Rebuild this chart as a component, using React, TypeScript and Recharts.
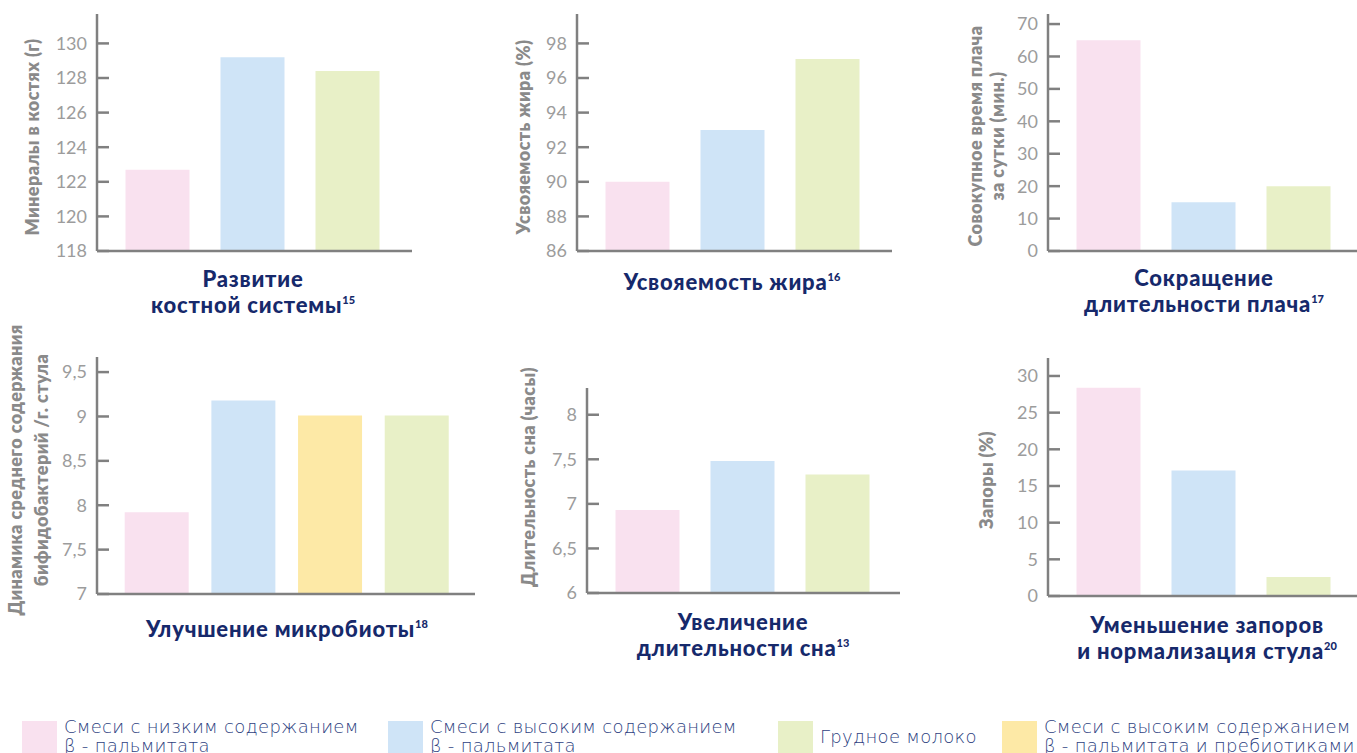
import React from 'react';
import { Bar, BarChart, Cell, XAxis, YAxis } from 'recharts';

// groups shown in the legend, in legend order
const groupKeys = ['low', 'high', 'milk', 'prebio'];
const groupColors = ['#f9e1ef', '#cfe4f7', '#e8f0c7', '#fde9a6'];
const legendLines = [
  ['Смеси с низким содержанием', 'β - пальмитата'],
  ['Смеси с высоким содержанием', 'β - пальмитата'],
  ['Грудное молоко'],
  ['Смеси с высоким содержанием', 'β - пальмитата и пребиотиками'],
];

// 1. bone minerals
const boneCats = ['low', 'high', 'milk'];
const boneValues = [122.7, 129.2, 128.4];
const boneTicks = [118, 120, 122, 124, 126, 128, 130];

// 2. fat absorption
const fatCats = ['low', 'high', 'milk'];
const fatValues = [90, 93, 97.1];
const fatTicks = [86, 88, 90, 92, 94, 96, 98];

// 3. crying time
const cryCats = ['low', 'high', 'milk'];
const cryValues = [65, 15, 20];
const cryTicks = [0, 10, 20, 30, 40, 50, 60, 70];

// 4. bifidobacteria
const bifidoCats = ['low', 'high', 'prebio', 'milk'];
const bifidoValues = [7.92, 9.18, 9.01, 9.01];
const bifidoTicks = [7, 7.5, 8, 8.5, 9, 9.5];

// 5. sleep duration
const sleepCats = ['low', 'high', 'milk'];
const sleepValues = [6.93, 7.48, 7.33];
const sleepTicks = [6, 6.5, 7, 7.5, 8];

// 6. constipation
const stoolCats = ['low', 'high', 'milk'];
const stoolValues = [28.4, 17.1, 2.6];
const stoolTicks = [0, 5, 10, 15, 20, 25, 30];

const AXIS_W = 60;
const PAD = 14; // room above/below the plot for the end tick labels
const AXIS_COLOR = '#808080';
const TICK_COLOR = '#9c9c9c';
const LABEL_COLOR = '#8a8a8a';
const NAVY = '#16296b';
const LEGEND_TEXT = '#2e3f7f';

const colorOf = (key: string) => groupColors[groupKeys.indexOf(key)];

type Box = { x: number; y: number; w: number; h: number };

function MiniBarChart({
  cats,
  values,
  ticks,
  max,
  box,
  pad,
}: {
  cats: string[];
  values: number[];
  ticks: number[];
  max: number;
  box: Box;
  pad: [number, number];
}) {
  const data = cats.map((c, i) => ({ key: c, value: values[i] }));
  return (
    <div style={{ position: 'absolute', left: box.x - AXIS_W, top: box.y - PAD }}>
      <BarChart
        width={box.w + AXIS_W}
        height={box.h + 2 + PAD * 2}
        data={data}
        margin={{ top: PAD, right: 0, bottom: PAD, left: 0 }}
      >
        <XAxis
          dataKey="key"
          tick={false}
          tickLine={false}
          height={2}
          padding={{ left: pad[0], right: pad[1] }}
          axisLine={{ stroke: AXIS_COLOR, strokeWidth: 2.5 }}
        />
        <YAxis
          type="number"
          domain={[ticks[0], max]}
          ticks={ticks}
          interval={0}
          allowDataOverflow
          width={AXIS_W}
          tickSize={-12}
          tickMargin={22}
          tickFormatter={(v: number) => String(v).replace('.', ',')}
          tick={{ fill: TICK_COLOR, fontSize: 18, fontFamily: 'Lato, sans-serif' }}
          axisLine={{ stroke: AXIS_COLOR, strokeWidth: 2.5 }}
          tickLine={{ stroke: AXIS_COLOR, strokeWidth: 2.5 }}
        />
        <Bar dataKey="value" barSize={64} isAnimationActive={false}>
          {data.map((d) => (
            <Cell key={d.key} fill={colorOf(d.key)} />
          ))}
        </Bar>
      </BarChart>
    </div>
  );
}

function AxisTitle({ lines, cx, cy, lh = 22 }: { lines: string[]; cx: number; cy: number; lh?: number }) {
  return (
    <div
      style={{
        position: 'absolute',
        left: cx,
        top: cy,
        transform: 'translate(-50%, -50%) rotate(-90deg)',
        whiteSpace: 'nowrap',
        textAlign: 'center',
        fontFamily: 'Lato, sans-serif',
        fontWeight: 800,
        fontSize: 18,
        letterSpacing: 0.4,
        lineHeight: `${lh}px`,
        color: LABEL_COLOR,
      }}
    >
      {lines.map((l) => (
        <div key={l}>{l}</div>
      ))}
    </div>
  );
}

function ChartTitle({ lines, note, cx, top }: { lines: string[]; note: string; cx: number; top: number }) {
  return (
    <div
      style={{
        position: 'absolute',
        left: cx,
        top,
        transform: 'translateX(-50%)',
        whiteSpace: 'nowrap',
        textAlign: 'center',
        fontFamily: 'Lato, sans-serif',
        fontWeight: 900,
        fontSize: 22,
        letterSpacing: 0.8,
        lineHeight: '26px',
        color: NAVY,
      }}
    >
      {lines.map((l, i) => (
        <div key={l}>
          {l}
          {i === lines.length - 1 && (
            <span style={{ fontSize: 11, letterSpacing: 0, position: 'relative', top: -9 }}>{note}</span>
          )}
        </div>
      ))}
    </div>
  );
}

function Legend() {
  const xs = [22, 388, 778, 1002];
  return (
    <>
      {legendLines.map((lines, i) => (
        <div key={i} style={{ position: 'absolute', left: xs[i], top: 721, display: 'flex' }}>
          <div style={{ width: 35, height: 35, background: groupColors[i] }} />
          <div
            style={{
              marginLeft: 7,
              marginTop: lines.length === 1 ? 6 : -4,
              fontFamily: 'DejaVu Sans, sans-serif',
              fontWeight: 200,
              fontSize: 18,
              letterSpacing: 0.3,
              lineHeight: '19px',
              color: LEGEND_TEXT,
              whiteSpace: 'nowrap',
            }}
          >
            {lines.map((l) => (
              <div key={l}>{l}</div>
            ))}
          </div>
        </div>
      ))}
    </>
  );
}

export default function App() {
  return (
    <div
      style={{
        position: 'absolute',
        left: 0,
        top: 0,
        width: 1357,
        height: 753,
        overflow: 'hidden',
        background: '#fff',
      }}
    >
      <MiniBarChart cats={boneCats} values={boneValues} ticks={boneTicks} max={131.7}
        box={{ x: 97, y: 14, w: 315, h: 237 }} pad={[12.5, 17.5]} />
      <MiniBarChart cats={fatCats} values={fatValues} ticks={fatTicks} max={99.7}
        box={{ x: 577, y: 14, w: 315, h: 237 }} pad={[12.5, 17.5]} />
      <MiniBarChart cats={cryCats} values={cryValues} ticks={cryTicks} max={73.1}
        box={{ x: 1048, y: 14, w: 309, h: 237 }} pad={[12.5, 11.5]} />
      <MiniBarChart cats={bifidoCats} values={bifidoValues} ticks={bifidoTicks} max={9.67}
        box={{ x: 97, y: 357, w: 378, h: 237 }} pad={[16.7, 14.6]} />
      <MiniBarChart cats={sleepCats} values={sleepValues} ticks={sleepTicks} max={8.3}
        box={{ x: 587, y: 388, w: 313, h: 205 }} pad={[12.5, 15.5]} />
      <MiniBarChart cats={stoolCats} values={stoolValues} ticks={stoolTicks} max={32.45}
        box={{ x: 1048, y: 358, w: 309, h: 238 }} pad={[12.5, 11.5]} />

      <AxisTitle lines={['Минералы в костях (г)']} cx={32} cy={137} />
      <AxisTitle lines={['Усвояемость жира (%)']} cx={523} cy={137} />
      <AxisTitle lines={['Совокупное время плача', 'за сутки (мин.)']} cx={986} cy={136} />
      <AxisTitle lines={['Динамика среднего содержания', 'бифидобактерий /г. стула']} cx={28} cy={470} lh={26} />
      <AxisTitle lines={['Длительность сна (часы)']} cx={528} cy={477} />
      <AxisTitle lines={['Запоры (%)']} cx={986} cy={480} />

      <ChartTitle lines={['Развитие', 'костной системы']} note="15" cx={253} top={266} />
      <ChartTitle lines={['Усвояемость жира']} note="16" cx={732} top={269} />
      <ChartTitle lines={['Сокращение', 'длительности плача']} note="17" cx={1204} top={265} />
      <ChartTitle lines={['Улучшение микробиоты']} note="18" cx={287} top={616} />
      <ChartTitle lines={['Увеличение', 'длительности сна']} note="13" cx={743} top={609} />
      <ChartTitle lines={['Уменьшение запоров', 'и нормализация стула']} note="20" cx={1207} top={612} />

      <Legend />
    </div>
  );
}
